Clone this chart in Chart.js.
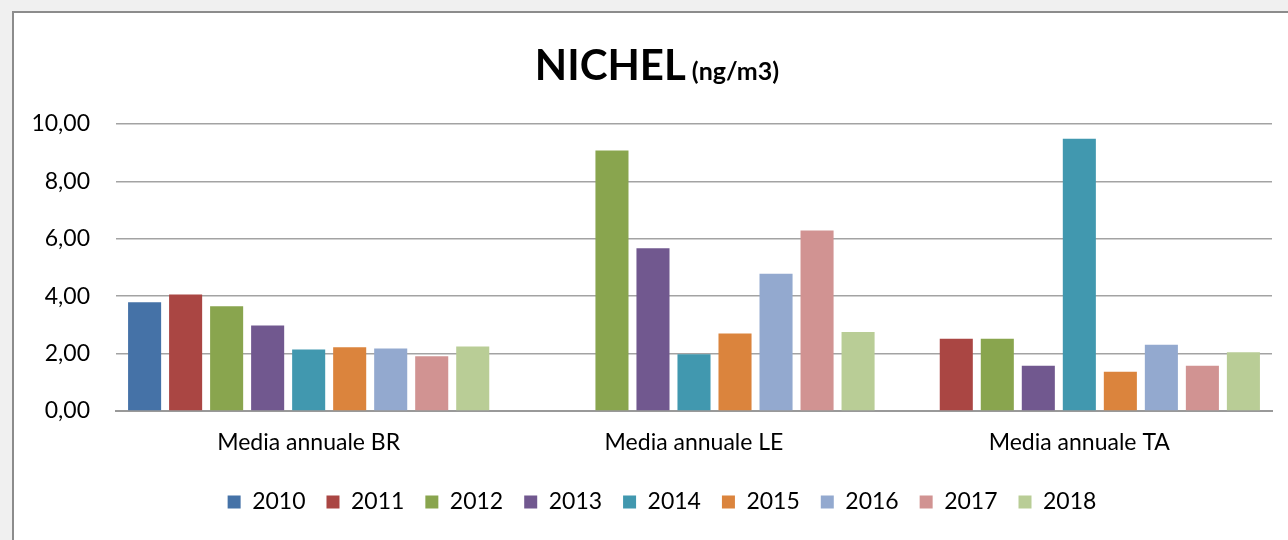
<!DOCTYPE html>
<html>
<head>
<meta charset="utf-8">
<script src="https://cdn.jsdelivr.net/npm/chart.js@4"></script>
<style>
  html, body { margin: 0; padding: 0; background: #f0f0f0; overflow: hidden; }
  #frame {
    position: absolute; left: 12px; top: 11px;
    width: 1276px; height: 529px;
    background: #fff;
    border-top: 2px solid #8c8c8c; border-left: 2px solid #8c8c8c;
  }
  #frame canvas { display: block; }
</style>
</head>
<body>
<div id="frame"><canvas id="myChart" width="1276" height="529"></canvas></div>
<script>
var stations = ['Media annuale BR', 'Media annuale LE', 'Media annuale TA'];
var years = ['2010', '2011', '2012', '2013', '2014', '2015', '2016', '2017', '2018'];
var yearColors = ['#4572a7', '#aa4643', '#89a54e', '#71588f', '#4198af', '#db843d', '#93a9cf', '#d19392', '#b9cd96'];

// annual means per station, one value per year (null = no data)
var mediaBR = [3.79, 4.06, 3.65, 2.98, 2.14, 2.22, 2.18, 1.91, 2.25];
var mediaLE = [null, null, 9.08, 5.67, 1.98, 2.70, 4.78, 6.29, 2.75];
var mediaTA = [null, 2.52, 2.52, 1.58, 9.49, 1.37, 2.31, 1.58, 2.05];

var yTicks = [0, 2, 4, 6, 8, 10];

var FONT = 'Lato, "Noto Sans", sans-serif';

var datasets = years.map(function (y, i) {
  return {
    label: y,
    data: [mediaBR[i], mediaLE[i], mediaTA[i]],
    backgroundColor: yearColors[i],
    borderWidth: 0,
    categoryPercentage: 0.958,
    barPercentage: 0.806
  };
});

var titlePlugin = {
  id: 'mixedTitle',
  afterDraw: function (chart) {
    var ctx = chart.ctx;
    ctx.save();
    ctx.fillStyle = '#000';
    ctx.textBaseline = 'alphabetic';
    ctx.font = 'bold 42px ' + FONT;
    var w1 = ctx.measureText('NICHEL').width;
    ctx.font = 'bold 25px ' + FONT;
    var w2 = ctx.measureText(' (ng/m3)').width;
    var x = 643 - (w1 + w2) / 2;
    ctx.font = 'bold 42px ' + FONT;
    ctx.fillText('NICHEL', x, 67);
    ctx.font = 'bold 25px ' + FONT;
    ctx.fillText(' (ng/m3)', x + w1, 67);
    ctx.restore();
  }
};

// legend sits a bit right of centre in the original
var legendShift = {
  id: 'legendShift',
  afterUpdate: function (chart) {
    chart.legend.left += 19;
    chart.legend.right += 19;
  }
};

new Chart('myChart', {
  type: 'bar',
  data: {
    labels: stations,
    datasets: datasets
  },
  options: {
    responsive: false,
    animation: false,
    layout: { padding: { top: 111, right: 18, left: 0, bottom: 18.5 } },
    plugins: {
      title: { display: false },
      tooltip: { enabled: false },
      legend: {
        position: 'bottom',
        labels: {
          boxWidth: 13,
          boxHeight: 13,
          padding: 21,
          color: '#000',
          font: { family: FONT, size: 23 }
        }
      }
    },
    scales: {
      x: {
        afterFit: function (scale) { scale.height = 58.5; },
        grid: { display: false, drawTicks: false },
        border: { display: true, color: '#999', width: 2 },
        ticks: { color: '#000', padding: 18, font: { family: FONT, size: 23 } }
      },
      y: {
        min: 0,
        max: 10,
        afterFit: function (scale) { scale.width = 102; },
        afterBuildTicks: function (scale) {
          scale.ticks = yTicks.map(function (v) { return { value: v }; });
        },
        border: { display: false },
        grid: { color: '#a3a3a3', lineWidth: 1.6, drawTicks: false },
        ticks: {
          color: '#000',
          padding: 26,
          font: { family: FONT, size: 23 },
          callback: function (v) { return Number(v).toFixed(2).replace('.', ','); }
        }
      }
    }
  },
  plugins: [titlePlugin, legendShift]
});
</script>
</body>
</html>
